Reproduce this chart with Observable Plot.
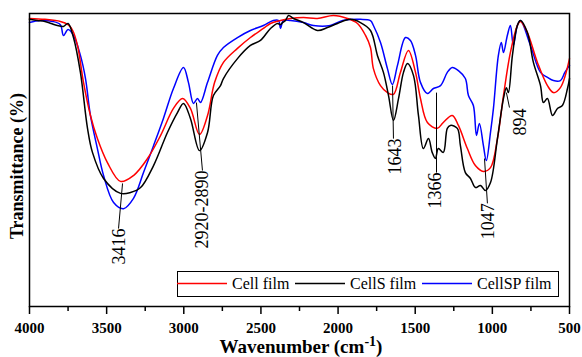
<!DOCTYPE html>
<html>
<head>
<meta charset="utf-8">
<script src="https://cdn.jsdelivr.net/npm/d3@7"></script>
<script src="https://cdn.jsdelivr.net/npm/@observablehq/plot@0.6"></script>
<style>
  body { margin: 0; background: #fff; }
  #chart { width: 582px; height: 357px; }
</style>
</head>
<body>
<div id="chart"></div>
<script>
// ---- Data ----
const seriesNames = ["Cell film", "CellS film", "CellSP film"];
const seriesColors = ["#ff0000", "#000000", "#0000ff"];

const wnCell = [4000,3900,3800,3750,3720,3689,3650,3605,3560,3495,3410,3326,3235,3150,3067,3008,2957,2898,2846,2800,2743,2652,2568,2484,2438,2373,2308,2224,2134,2030,1939,1874,1822,1790,1771,1725,1680,1641,1596,1544,1498,1466,1421,1357,1318,1260,1220,1162,1110,1058,1012,967,928,883,838,818,773,708,643,604,559,500];
const tCell = [98.3,98.0,97.3,96.2,94.2,89.1,76.5,65.2,57.3,49.1,42.7,44.7,50.5,58.4,67.6,71.0,67.6,58.7,65.2,76.5,83.3,88.1,91.8,94.9,96.6,97.6,98.3,98.6,98.3,99.3,98.3,96.6,92.5,88.4,81.2,75.4,73.0,72.4,79.9,87.4,79.9,71.0,62.8,60.8,62.8,65.2,61.8,53.9,48.1,46.1,47.4,57.3,72.0,86.7,95.9,97.3,93.5,83.3,75.4,73.0,74.7,84.6];

const wnCellS = [4000,3950,3900,3860,3820,3780,3750,3715,3670,3624,3592,3520,3410,3345,3280,3196,3106,3041,3002,2957,2898,2846,2808,2762,2743,2652,2568,2503,2438,2393,2373,2360,2341,2321,2289,2224,2134,2069,2004,1920,1855,1790,1745,1706,1673,1641,1608,1576,1550,1511,1479,1447,1414,1390,1369,1350,1318,1292,1272,1227,1207,1175,1142,1110,1077,1045,1012,967,928,909,896,870,838,818,773,734,688,669,643,610,578,546,513,500];
const tCellS = [98.0,97.6,97.3,96.6,95.9,95.6,96.6,91.8,79.9,60.8,52.6,43.7,38.6,38.9,40.6,48.1,59.4,66.2,69.3,64.2,53.2,59.4,72.0,75.4,77.8,84.6,89.1,90.8,94.9,96.6,96.2,96.9,97.6,99.3,98.3,96.9,94.2,95.2,96.6,98.0,96.9,94.2,85.7,79.9,72.0,63.5,71.0,79.9,82.9,78.8,65.2,53.9,57.3,52.6,50.5,53.9,52.6,60.8,61.8,60.8,54.9,45.7,43.7,40.6,41.3,39.6,42.3,57.3,71.0,74.7,73.0,85.7,95.9,97.6,93.5,83.3,75.4,69.6,71.0,65.2,67.6,68.6,74.4,77.8];

const wnCellSP = [4000,3930,3850,3800,3780,3750,3715,3670,3637,3605,3560,3520,3455,3390,3326,3261,3196,3132,3067,3002,2970,2937,2911,2892,2846,2782,2743,2652,2568,2484,2420,2386,2373,2355,2308,2224,2160,2050,1970,1855,1790,1771,1725,1680,1648,1615,1563,1531,1498,1466,1421,1382,1336,1292,1260,1220,1175,1155,1123,1103,1084,1058,1039,1012,993,961,942,928,903,883,864,838,818,753,688,643,604,559,530,500];
const tCellSP = [96.9,97.6,97.3,96.2,92.5,94.5,92.5,85.7,77.8,65.2,53.9,44.7,35.5,33.4,36.9,45.7,54.9,64.2,74.4,81.6,76.5,69.3,71.0,69.6,76.5,85.7,88.4,91.8,94.2,95.9,97.6,97.6,94.9,97.6,97.6,96.9,95.9,95.9,97.6,98.0,97.6,95.9,90.1,81.2,75.8,82.3,91.8,90.8,85.7,76.5,72.7,74.4,75.4,79.9,81.6,80.5,77.8,72.0,68.6,58.4,62.5,54.9,49.8,59.4,67.6,85.7,90.1,86.7,92.5,95.9,89.1,95.9,97.6,89.1,79.9,78.2,77.1,77.1,79.9,82.3];

const xTicks = [4000,3500,3000,2500,2000,1500,1000,500];
const xMinorTicks = [3750,3250,2750,2250,1750,1250,750];

// peak annotations: label, leader start (on curve), leader end / label anchor
const annLabel = ["3416","2920-2890","1643","1366","1047","894"];
const annWnFrom = [3397,2918,1647,1362,1051,909];
const annTFrom  = [42.0,69.6,75.4,73.0,50.5,73.0];
const annWnTo   = [3423,2879,1641,1362,1032,889];
const annTTo    = [26.6,46.4,57.3,45.7,35.2,67.9];
const annWnText = [3420,2879,1630,1369,1025,818];
const annTText  = [26.6,46.4,57.3,45.7,35.2,67.6];

// ---- Build tables ----
const rows = [];
[[wnCell,tCell],[wnCellS,tCellS],[wnCellSP,tCellSP]].forEach(([w,t],k) => {
  w.forEach((v,i) => rows.push({series: seriesNames[k], wn: v, t: t[i]}));
});
const ann = annLabel.map((s,i) => ({label: s, x1: annWnFrom[i], y1: annTFrom[i], x2: annWnTo[i], y2: annTTo[i], xt: annWnText[i], yt: annTText[i]}));

const serif = "'Liberation Serif','Times New Roman',Times,serif";
const drawOrder = [2, 0, 1];

const plot = Plot.plot({
  width: 582,
  height: 357,
  marginLeft: 29,
  marginRight: 13,
  marginTop: 13,
  marginBottom: 51,
  x: {domain: [4000, 500]},
  y: {domain: [0, 100], axis: null},
  style: {fontFamily: serif, background: "white", color: "black", overflow: "visible"},
  marks: [
    ...drawOrder.map(k => Plot.line(rows.filter(r => r.series === seriesNames[k]), {
      x: "wn", y: "t", stroke: seriesColors[k], strokeWidth: 1.5, curve: "catmull-rom"
    })),
    Plot.link(ann, {x1: "x1", y1: "y1", x2: "x2", y2: "y2", stroke: "black", strokeWidth: 1}),
    Plot.text(ann, {x: "xt", y: "yt", text: "label", rotate: -90, textAnchor: "end",
      fontSize: 18, fontFamily: serif, fill: "black"}),
    Plot.frame({stroke: "black", strokeWidth: 1.5}),
    Plot.axisX({ticks: xTicks, tickSize: 8, tickPadding: 8, tickFormat: d => String(d),
      fontSize: 15, fontWeight: "bold", strokeWidth: 1.5, label: null}),
    Plot.axisX({ticks: xMinorTicks, tickSize: 5, tickFormat: () => "", strokeWidth: 1.5, label: null})
  ]
});
document.getElementById("chart").appendChild(plot);

// ---- Titles & legend ----
const svg = d3.select(plot);
svg.append("text")
  .attr("transform", "translate(23,166) rotate(-90)")
  .attr("text-anchor", "middle")
  .attr("font-family", serif).attr("font-weight", "bold").attr("font-size", 18)
  .attr("fill", "black")
  .text("Transmittance (%)");

const xt = svg.append("text")
  .attr("x", 301).attr("y", 353)
  .attr("text-anchor", "middle")
  .attr("font-family", serif).attr("font-weight", "bold").attr("font-size", 19)
  .attr("fill", "black");
xt.append("tspan").text("Wavenumber (cm");
xt.append("tspan").attr("dy", -7).attr("font-size", 14).text("-1");
xt.append("tspan").attr("dy", 7).text(")");

const lg = svg.append("g").attr("font-family", serif).attr("font-size", 16).attr("text-anchor", "start");
lg.append("rect").attr("x", 177.5).attr("y", 271.5).attr("width", 381).attr("height", 25)
  .attr("fill", "white").attr("stroke", "black").attr("stroke-width", 1);
const legendX = [177, 295, 422];
seriesNames.forEach((name, k) => {
  const x0 = legendX[k];
  lg.append("line").attr("x1", x0).attr("x2", x0 + 50).attr("y1", 283.5).attr("y2", 283.5)
    .attr("stroke", seriesColors[k]).attr("stroke-width", 1.5);
  lg.append("text").attr("x", x0 + 55).attr("y", 289).attr("fill", "black")
    .attr("text-anchor", "start").text(name);
});
</script>
</body>
</html>
